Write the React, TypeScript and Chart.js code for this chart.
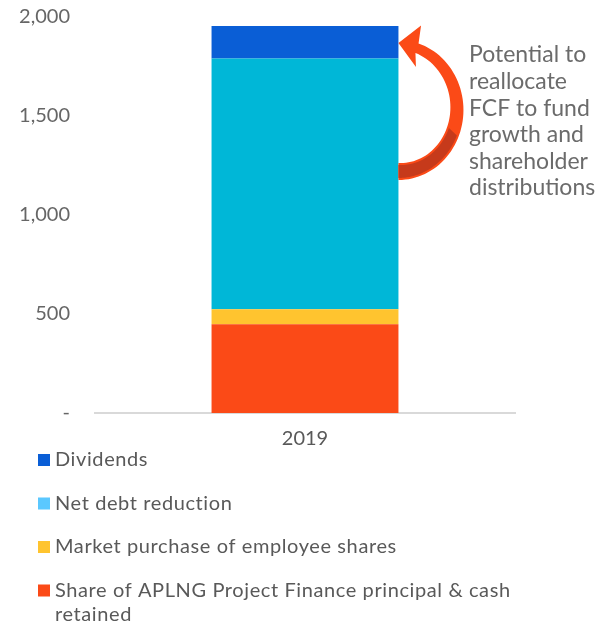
import React, { useEffect, useRef } from 'react';
import { Chart, registerables } from 'chart.js';

Chart.register(...registerables);

const categories = ['2019'];
const aplngRetained = [448];
const marketPurchase = [76];
const netDebtReduction = [1266];
const dividends = [165];
const yTickValues = [0, 500, 1000, 1500, 2000];

const seriesLabels = [
  'Share of APLNG Project Finance principal & cash retained',
  'Market purchase of employee shares',
  'Net debt reduction',
  'Dividends',
];
const barColors = ['#FB4A17', '#FFC42F', '#00B7D7', '#0A5ED6'];
const legendColors = ['#FB4A17', '#FFC42F', '#5BC8FF', '#0A5ED6'];
const annotationLines = ['Potential to', 'reallocate', 'FCF to fund', 'growth and', 'shareholder', 'distributions'];

const FONT = 'Lato, "Open Sans", sans-serif';

const overlayPlugin = {
  id: 'overlay',
  afterDraw(chart: any) {
    const ctx = chart.ctx;
    ctx.save();
    // Legend (top-to-bottom reverse of stack order)
    const legendX = 38;
    const textX = 55;
    const startY = 460;
    const gap = 43.5;
    ctx.font = `20px ${FONT}`;
    (ctx as any).letterSpacing = '0.6px';
    ctx.textBaseline = 'middle';
    ctx.textAlign = 'left';
    const order = [3, 2, 1, 0];
    order.forEach((idx, i) => {
      const cy = startY + i * gap;
      ctx.fillStyle = legendColors[idx];
      ctx.fillRect(legendX, cy - 6, 12, 12);
      ctx.fillStyle = '#595959';
      const words = seriesLabels[idx].split(' ');
      const lines: string[] = [];
      let cur = '';
      words.forEach((w) => {
        const test = cur ? cur + ' ' + w : w;
        if (ctx.measureText(test).width > 490 && cur) {
          lines.push(cur);
          cur = w;
        } else cur = test;
      });
      if (cur) lines.push(cur);
      lines.forEach((ln, j) => ctx.fillText(ln, textX, cy + j * 24));
    });
    (ctx as any).letterSpacing = '0px';

    // Curved arrow
    const meta = chart.getDatasetMeta(3);
    const bar = meta.data[0];
    const cx = bar.x + bar.width / 2;
    const cy = 110;
    const P = (deg: number, rx: number, ry: number) => {
      const a = (deg * Math.PI) / 180;
      return [cx + rx * Math.cos(a), cy + ry * Math.sin(a)];
    };
    const thick = (deg: number) => 10 + ((deg + 72) / 162) * 7;
    const outerRx = 65;
    const outerRy = 70;
    ctx.beginPath();
    for (let d = 90; d >= -72; d -= 3) {
      const [x, y] = P(d, outerRx, outerRy);
      if (d === 90) ctx.moveTo(x, y);
      else ctx.lineTo(x, y);
    }
    let p = P(-72, outerRx, outerRy);
    ctx.lineTo(p[0], p[1]);
    p = P(-74, 82, 88);
    ctx.lineTo(p[0], p[1]);
    ctx.lineTo(cx, cy - 67);
    p = P(-66, 43, 47);
    ctx.lineTo(p[0], p[1]);
    for (let d = -72; d <= 90; d += 3) {
      const t = thick(d);
      const [x, y] = P(d, outerRx - t, outerRy - t);
      ctx.lineTo(x, y);
    }
    ctx.closePath();
    ctx.fillStyle = '#FB4A17';
    ctx.fill();

    // darker underside
    ctx.beginPath();
    for (let d = 90; d >= 22; d -= 2) {
      const [x, y] = P(d, outerRx - 2, outerRy - 2);
      if (d === 90) ctx.moveTo(x, y);
      else ctx.lineTo(x, y);
    }
    for (let d = 18; d <= 90; d += 2) {
      const t = thick(d);
      const [x, y] = P(d, outerRx - t + 2, outerRy - t + 2);
      ctx.lineTo(x, y);
    }
    ctx.closePath();
    ctx.fillStyle = '#C63A1B';
    ctx.fill();

    // Annotation text
    ctx.fillStyle = '#6B6B6B';
    ctx.font = `23px ${FONT}`;
    ctx.textBaseline = 'middle';
    ctx.textAlign = 'left';
    annotationLines.forEach((ln, i) => ctx.fillText(ln, 469, 55 + i * 26.6));
    ctx.restore();
  },
};

export default function App() {
  const canvasRef = useRef<HTMLCanvasElement | null>(null);

  useEffect(() => {
    if (!canvasRef.current) return;
    const series = [aplngRetained, marketPurchase, netDebtReduction, dividends];
    const chart = new Chart(canvasRef.current, {
      type: 'bar',
      data: {
        labels: categories,
        datasets: series.map((data, i) => ({
          label: seriesLabels[i],
          data,
          backgroundColor: barColors[i],
          borderWidth: 0,
          categoryPercentage: 1,
          barPercentage: 0.445,
        })),
      },
      options: {
        animation: false,
        responsive: true,
        maintainAspectRatio: false,
        layout: { padding: { top: 17, right: 84, bottom: 170, left: 0 } },
        plugins: {
          legend: { display: false },
          tooltip: { enabled: false },
        },
        scales: {
          x: {
            stacked: true,
            grid: { display: false, drawTicks: false },
            border: { display: true, color: '#D9D9D9', width: 2 },
            ticks: { color: '#595959', font: { family: FONT, size: 20 }, padding: 14 },
            afterFit: (s: any) => {
              s.height = 40;
            },
          },
          y: {
            stacked: true,
            min: 0,
            max: 2000,
            afterBuildTicks: (s: any) => {
              s.ticks = yTickValues.map((v) => ({ value: v }));
            },
            grid: { display: false, drawTicks: false },
            border: { display: false },
            ticks: {
              color: '#666666',
              font: { family: FONT, size: 20 },
              padding: 25,
              callback: (v: any) => (Number(v) === 0 ? '-' : Number(v).toLocaleString('en-US')),
            },
            afterFit: (s: any) => {
              s.width = 95;
              s.paddingTop = 0;
              s.paddingBottom = 0;
            },
          },
        },
      },
      plugins: [overlayPlugin],
    });
    return () => chart.destroy();
  }, []);

  return (
    <div style={{ position: 'fixed', left: 0, top: 0, width: 599, height: 623, background: '#fff' }}>
      <canvas ref={canvasRef} />
    </div>
  );
}
